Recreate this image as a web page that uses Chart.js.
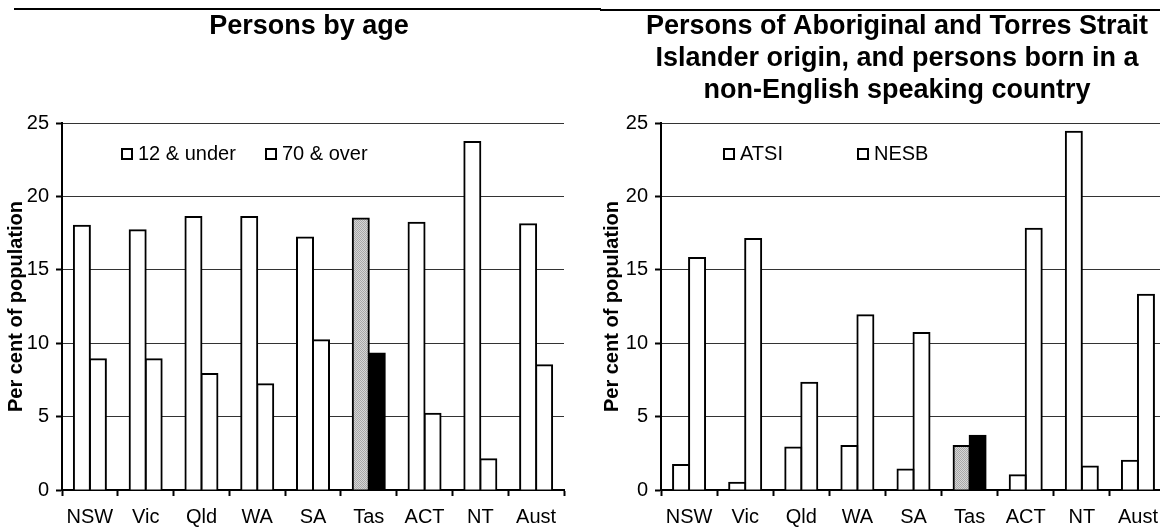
<!DOCTYPE html>
<html>
<head>
<meta charset="utf-8">
<script src="https://cdn.jsdelivr.net/npm/chart.js@4.4.1/dist/chart.umd.min.js"></script>
<style>
  html, body { margin: 0; padding: 0; background: #fff; }
  body { width: 1160px; height: 530px; overflow: hidden; position: relative; }
  .rule { position: absolute; background: #000; height: 2px; }
  canvas { position: absolute; top: 0; }
</style>
</head>
<body>
<div class="rule" style="left:14px;top:8px;width:587px"></div>
<div class="rule" style="left:600px;top:9px;width:560px"></div>
<canvas id="c1" width="618" height="530" style="left:0"></canvas>
<canvas id="c2" width="602" height="530" style="left:596px"></canvas>
<script>
// ---- data ----
const states = ['NSW', 'Vic', 'Qld', 'WA', 'SA', 'Tas', 'ACT', 'NT', 'Aust'];
const highlightState = 'Tas';

const ageTitle = 'Persons by age';
const ageSeriesLabels = ['12 & under', '70 & over'];
const under12 = [18.0, 17.7, 18.6, 18.6, 17.2, 18.5, 18.2, 23.7, 18.1];
const over70  = [8.9, 8.9, 7.9, 7.2, 10.2, 9.3, 5.2, 2.1, 8.5];

const originTitle = ['Persons of Aboriginal and Torres Strait',
                     'Islander origin, and persons born in a',
                     'non-English speaking country'];
const originSeriesLabels = ['ATSI', 'NESB'];
const atsi = [1.7, 0.5, 2.9, 3.0, 1.4, 3.0, 1.0, 24.4, 2.0];
const nesb = [15.8, 17.1, 7.3, 11.9, 10.7, 3.7, 17.8, 1.6, 13.3];

const yTickValues = [0, 5, 10, 15, 20, 25];
const yAxisTitle = 'Per cent of population';

// ---- styling ----
const FONT = '"Liberation Sans", Arial, Helvetica, sans-serif';
Chart.defaults.font.family = FONT;
Chart.defaults.color = '#000';

function makeHatch(ctx) {
  const c = document.createElement('canvas');
  c.width = 2; c.height = 2;
  const g = c.getContext('2d');
  g.fillStyle = '#d6d6d6'; g.fillRect(0, 0, 2, 2);
  g.fillStyle = '#a8a8a8'; g.fillRect(0, 0, 1, 1); g.fillRect(1, 1, 1, 1);
  return ctx.createPattern(c, 'repeat');
}

const floatLegend = {
  id: 'floatLegend',
  afterDraw(chart, args, opts) {
    const ctx = chart.ctx, a = chart.chartArea;
    ctx.save();
    ctx.font = '20px ' + FONT;
    ctx.textBaseline = 'middle';
    ctx.textAlign = 'left';
    chart.data.datasets.forEach((ds, i) => {
      const x = a.left + opts.offsets[i];
      const y = a.top + opts.y;
      ctx.fillStyle = '#fff';
      ctx.fillRect(x, y - 6, 12, 12);
      ctx.strokeStyle = '#000';
      ctx.lineWidth = 2;
      ctx.strokeRect(x + 1, y - 5, 10, 10);
      ctx.fillStyle = '#000';
      ctx.fillText(ds.label, x + 17, y);
    });
    ctx.restore();
  }
};

function build(id, cfg) {
  const canvas = document.getElementById(id);
  const ctx = canvas.getContext('2d');
  const hatch = makeHatch(ctx);
  const hi = states.indexOf(highlightState);
  const hiFills = [hatch, '#000'];
  const lines = Array.isArray(cfg.title) ? cfg.title.length : 1;
  const lh = 32;
  return new Chart(ctx, {
    type: 'bar',
    data: {
      labels: states,
      datasets: cfg.series.map((vals, i) => ({
        label: cfg.seriesLabels[i],
        data: vals,
        backgroundColor: c => (c.dataIndex === hi ? hiFills[i] : '#fff'),
        borderColor: '#000',
        borderWidth: 2,
        barThickness: 16,
        inflateAmount: 1
      }))
    },
    options: {
      responsive: false,
      animation: false,
      layout: { padding: 0 },
      plugins: {
        legend: { display: false },
        tooltip: { enabled: false },
        title: {
          display: true,
          text: cfg.title,
          color: '#000',
          font: { family: FONT, size: 27, weight: 'bold', lineHeight: lh / 27 },
          padding: { top: 11, bottom: 123 - 11 - lines * lh }
        },
        floatLegend: { offsets: cfg.legendOffsets, y: 31 }
      },
      scales: {
        x: {
          z: 1,
          grid: { drawOnChartArea: false, offset: true, tickLength: 6, tickWidth: 2, tickColor: '#000' },
          border: { color: '#000', width: 2 },
          ticks: { font: { size: 20 }, color: '#000', padding: 9, maxRotation: 0, autoSkip: false },
          afterFit: s => { s.height = 40; }
        },
        y: {
          min: yTickValues[0],
          max: yTickValues[yTickValues.length - 1],
          afterBuildTicks: s => { s.ticks = yTickValues.map(v => ({ value: v })); },
          grid: { color: '#333', lineWidth: 1, tickLength: 6, tickWidth: 2, tickColor: '#000' },
          border: { color: '#000', width: 2 },
          ticks: { font: { size: 20 }, color: '#000', padding: 7 },
          title: {
            display: true,
            text: yAxisTitle,
            color: '#000',
            font: { size: 20, weight: 'bold' },
            padding: { top: 4, bottom: 0 }
          },
          afterFit: s => { s.width = cfg.yAxisWidth; }
        },
        yPad: {
          position: 'right',
          display: true,
          grid: { display: false },
          border: { display: false },
          ticks: { display: false },
          afterFit: s => { s.width = cfg.rightPad; }
        }
      }
    },
    plugins: [floatLegend]
  });
}

build('c1', {
  title: ageTitle,
  seriesLabels: ageSeriesLabels,
  series: [under12, over70],
  yAxisWidth: 62,
  rightPad: 54,
  legendOffsets: [59, 203]
});

build('c2', {
  title: originTitle,
  seriesLabels: originSeriesLabels,
  series: [atsi, nesb],
  yAxisWidth: 65,
  rightPad: 32,
  legendOffsets: [62, 196]
});
</script>
</body>
</html>
